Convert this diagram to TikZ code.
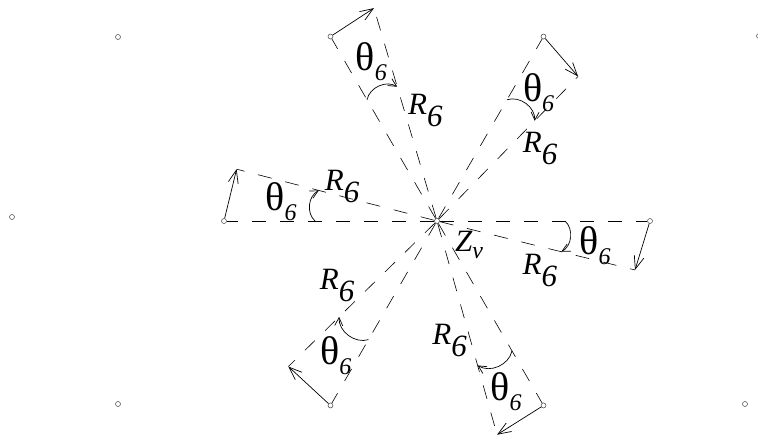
\documentclass[tikz,border=0pt]{standalone}
\usepackage{fontspec}
\setmainfont{Liberation Serif}
\usetikzlibrary{arrows.meta}

\newcommand{\thsix}{θ\raisebox{-10pt}{\fontsize{24}{24}\selectfont\itshape 6}}
\newcommand{\rsix}{R\raisebox{-12pt}{6}}

\begin{document}
\begin{tikzpicture}[
    x=1pt, y=1pt,
    pt/.style={circle, draw=black!65, line width=0.6pt, inner sep=0pt, minimum size=5pt},
    spoke/.style={dash pattern=on 14pt off 14pt, line width=0.6pt},
    tang/.style={-{Straight Barb[length=13pt,width=10pt]}, line width=0.7pt},
    ang/.style={-{Straight Barb[length=8pt,width=8pt]}, line width=0.7pt, bend left=55},
    thlbl/.style={font=\fontsize{40}{40}\selectfont, inner sep=0pt},
    rlbl/.style={font=\fontsize{31}{31}\selectfont\itshape, inner sep=0pt}
]
\useasboundingbox (-437,-217) rectangle (321,221);

% centre
\node[pt] (c) at (0,0) {};
\node[rlbl] (zv) at (32,-24) {Z\raisebox{-7pt}{\fontsize{24}{24}\selectfont v}};

% neighbour points
\node[pt] (g1) at (-319,184) {};
\node[pt] (g2) at (-425,4) {};
\node[pt] (g3) at (-319,-183) {};
\node[pt] (g4) at (308,-183) {};
\node[pt] (g5) at (322,185) {};

% six spokes
\foreach \n/\pa/\qa/\qr/\ar/\ta/\tr/\ra/\rr in {
    1/180/165.5/207/122/173/157/160/101,
    2/120/106.5/222/140/112.5/172/96/111,
    3/60/45.7/202/140/51.7/164/35/126,
    4/0/-13.9/204/128/-9/160/-25.5/114,
    5/-60/-74.3/222/150/-68/184/-84/120,
    6/-120/-135.6/208/137/-127/168/-147/119} {
    \node[pt] (p\n) at (\pa:213) {};
    \coordinate (q\n) at (\qa:\qr);
    \draw[spoke] (c) -- (p\n);
    \draw[spoke] (c) -- (q\n);
    \draw[tang] (p\n) -- (q\n);
    \coordinate (a\n) at (\pa:\ar);
    \coordinate (b\n) at (\qa:\ar);
    \draw[ang] (a\n) to (b\n);
    \node[thlbl] (th\n) at (\ta:\tr) {\thsix};
    \node[rlbl] (r\n) at (\ra:\rr) {\rsix};
}

\end{tikzpicture}
\end{document}
